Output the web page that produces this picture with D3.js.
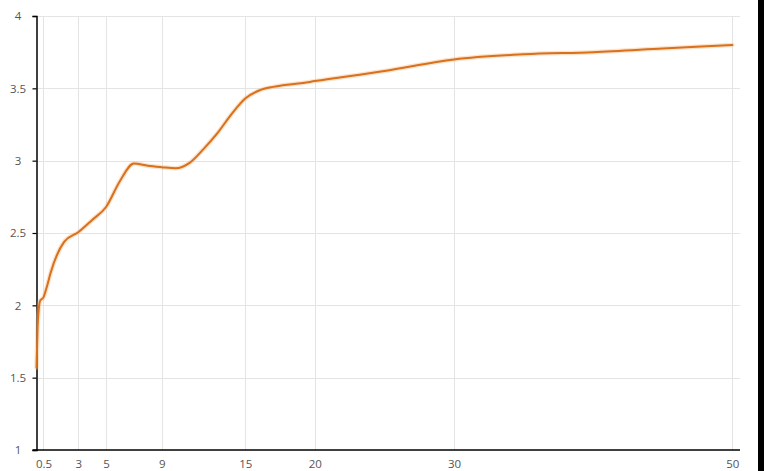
<!DOCTYPE html>
<html>
<head>
<meta charset="utf-8">
<script src="https://cdn.jsdelivr.net/npm/d3@7"></script>
<style>
  html, body { margin: 0; padding: 0; background: #fff; }
  svg { display: block; }
  text { font-family: "Open Sans", "DejaVu Sans", sans-serif; }
</style>
</head>
<body>
<svg id="chart" width="764" height="471"></svg>
<script>
// Data (tenor in years, yield %)
const tenors = [0, 0.08, 0.17, 0.25, 0.5, 0.75, 1, 2, 3, 4, 5, 6, 7, 8, 9, 10, 11, 12, 13, 14, 15, 16, 17, 18, 19, 20, 25, 30, 35, 40, 45, 50];
const yields = [1.57, 1.85, 1.98, 2.03, 2.055, 2.13, 2.22, 2.44, 2.505, 2.59, 2.68, 2.86, 2.98, 2.965, 2.955, 2.947, 2.985, 3.08, 3.19, 3.32, 3.43, 3.485, 3.51, 3.525, 3.535, 3.55, 3.62, 3.70, 3.735, 3.75, 3.775, 3.80];
const xTickValues = [0.5, 3, 5, 9, 15, 20, 30, 50];
const yTickValues = [1, 1.5, 2, 2.5, 3, 3.5, 4];

const svg = d3.select("#chart");
const W = 764, H = 471;

const x = d3.scaleLinear().domain([0, 50]).range([36.5, 732.3]);
const y = d3.scaleLinear().domain([1, 4]).range([450, 16]);
const plotRight = 740;

svg.append("rect").attr("width", W).attr("height", H).attr("fill", "#fff");

// horizontal gridlines
svg.append("g").selectAll("line").data(yTickValues.slice(1)).join("line")
  .attr("x1", x(0)).attr("x2", plotRight)
  .attr("y1", d => Math.round(y(d)) + 0.5).attr("y2", d => Math.round(y(d)) + 0.5)
  .attr("stroke", "#e4e4e4").attr("stroke-width", 1);

// vertical gridlines
svg.append("g").selectAll("line").data(xTickValues).join("line")
  .attr("x1", d => Math.round(x(d)) + 0.5).attr("x2", d => Math.round(x(d)) + 0.5)
  .attr("y1", y(4)).attr("y2", y(1))
  .attr("stroke", "#e4e4e4").attr("stroke-width", 1);

// y axis
const yAxis = d3.axisLeft(y).tickValues(yTickValues).tickSize(4).tickFormat(d3.format("~g"));
const gy = svg.append("g").attr("transform", `translate(${x(0)},0)`).call(yAxis);
gy.select(".domain").attr("stroke", "#000").attr("stroke-width", 1.5);
gy.selectAll(".tick line").attr("stroke", "#000").attr("stroke-width", 1.2);
gy.selectAll(".tick text")
  .attr("x", 18 - x(0)).attr("text-anchor", "middle")
  .attr("fill", "#555").attr("font-size", 11.5).attr("font-family", "'Open Sans', sans-serif");

// x axis
const xAxis = d3.axisBottom(x).tickValues(xTickValues).tickSize(0).tickFormat(d3.format("~g"));
const gx = svg.append("g").attr("transform", `translate(0,${y(1)})`).call(xAxis);
gx.select(".domain").attr("d", `M${x(0) - 4},0H${plotRight}`).attr("stroke", "#000").attr("stroke-width", 1.5);
gx.selectAll(".tick text")
  .attr("y", 10).attr("fill", "#555").attr("font-size", 11.5).attr("font-family", "'Open Sans', sans-serif");

// line
const pts = tenors.map((t, i) => [t, yields[i]]);
const line = d3.line().x(d => x(d[0])).y(d => y(d[1])).curve(d3.curveMonotoneX);

svg.append("path").datum(pts).attr("d", line)
  .attr("fill", "none").attr("stroke", "#f6b77a").attr("stroke-opacity", 0.4)
  .attr("stroke-width", 4.5).attr("stroke-linejoin", "round").attr("stroke-linecap", "round");
svg.append("path").datum(pts).attr("d", line)
  .attr("fill", "none").attr("stroke", "#d8701e").attr("stroke-width", 2)
  .attr("stroke-linejoin", "round").attr("stroke-linecap", "round");

// dark strip on right edge
svg.append("rect").attr("x", 758).attr("y", 0).attr("width", 6).attr("height", H).attr("fill", "#000");
</script>
</body>
</html>
